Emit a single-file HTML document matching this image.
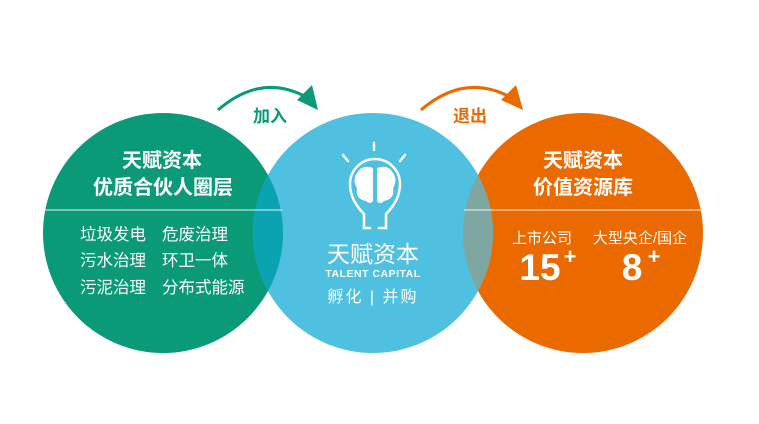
<!DOCTYPE html>
<html><head><meta charset="utf-8"><style>
body{margin:0;background:#fff;width:759px;height:424px;overflow:hidden;position:relative;font-family:"Liberation Sans","Noto Sans CJK SC",sans-serif}
</style></head><body>
<svg width="759" height="424" viewBox="0 0 759 424" xmlns="http://www.w3.org/2000/svg" style="position:absolute;left:0;top:0">
<defs>
<clipPath id="cg"><circle cx="163" cy="233" r="120"/></clipPath>
<clipPath id="co"><circle cx="583" cy="233" r="120"/></clipPath>
</defs>
<circle cx="163" cy="233" r="120" fill="#0a9a78"/>
<circle cx="583" cy="233" r="120" fill="#eb6a00"/>
<circle cx="373" cy="233" r="120" fill="#4fc0df"/>
<circle cx="373" cy="233" r="120" fill="#0aa3b1" clip-path="url(#cg)"/>
<circle cx="373" cy="233" r="120" fill="#7fa7a1" clip-path="url(#co)"/>
<line x1="43" y1="210" x2="282" y2="210" stroke="#fff" stroke-width="1" opacity="0.9"/>
<line x1="464" y1="210" x2="702" y2="210" stroke="#fff" stroke-width="1" opacity="0.9"/>
<path d="M218 110 Q262 72 308 98" fill="none" stroke="#0a9a78" stroke-width="3"/>
<polygon points="318,110 297,100 312,85" fill="#0a9a78"/>
<path d="M421 110 Q465 72 512 98" fill="none" stroke="#eb6a00" stroke-width="3"/>
<polygon points="523,110 501,100 516,85" fill="#eb6a00"/>
<text x="270" y="122" font-size="17" font-weight="bold" fill="#0a9a78" text-anchor="middle" font-family="Liberation Sans,Noto Sans CJK SC,sans-serif">加入</text>
<text x="470" y="122" font-size="17" font-weight="bold" fill="#eb6a00" text-anchor="middle" font-family="Liberation Sans,Noto Sans CJK SC,sans-serif">退出</text>
<g fill="none" stroke="#fff" stroke-width="2.5" stroke-linecap="round">
<line x1="374" y1="143" x2="374" y2="150"/>
<line x1="343" y1="155" x2="348" y2="161"/>
<line x1="405" y1="155" x2="400" y2="161"/>
<path d="M364 222 L364 214 Q350 200 350 184 A25 25 0 1 1 400 184 Q400 200 386 214 L386 222"/>
<path d="M364 222 L364 228 L370 228 M386 222 L386 228 L379 228"/>
</g>
<g fill="#fff">
<path d="M373 168 Q362 164 357 173 Q352 180 357 188 Q355 199 366 201 Q370 205 373 201 Z"/>
<path d="M377 168 Q388 164 393 173 Q398 180 393 188 Q395 199 384 201 Q380 205 377 201 Z"/>
</g>
<g fill="#fff" text-anchor="middle" font-family="Liberation Sans,Noto Sans CJK SC,sans-serif">
<text x="373" y="262" font-size="23">天赋资本</text>
<text x="373" y="277" font-size="10.5" font-weight="bold" letter-spacing="0.5">TALENT CAPITAL</text>
<text x="373" y="302" font-size="16" letter-spacing="2">孵化 | 并购</text>
<text x="162" y="167" font-size="20" font-weight="bold">天赋资本</text>
<text x="163" y="194" font-size="20" font-weight="bold">优质合伙人圈层</text>
<text x="583" y="167" font-size="20" font-weight="bold">天赋资本</text>
<text x="583" y="194" font-size="20" font-weight="bold">价值资源库</text>
<text x="542" y="243" font-size="15">上市公司</text>
<text x="640" y="243" font-size="15">大型央企/国企</text>
<text x="540" y="280" font-size="37" font-weight="bold">15</text>
<text x="570" y="264" font-size="22" font-weight="bold">+</text>
<text x="632" y="280" font-size="37" font-weight="bold">8</text>
<text x="654" y="264" font-size="22" font-weight="bold">+</text>
</g>
<g fill="#fff" font-size="16.5" font-family="Liberation Sans,Noto Sans CJK SC,sans-serif">
<text x="80" y="240">垃圾发电</text><text x="162" y="240">危废治理</text>
<text x="80" y="266">污水治理</text><text x="162" y="266">环卫一体</text>
<text x="80" y="293">污泥治理</text><text x="162" y="293">分布式能源</text>
</g>
</svg>
</body></html>
